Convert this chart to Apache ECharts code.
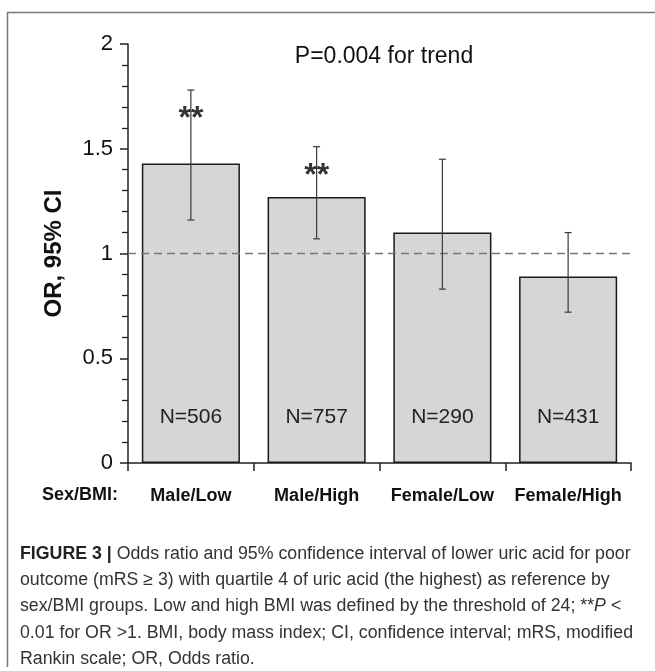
<!DOCTYPE html>
<html><head><meta charset="utf-8">
<script src="https://cdn.jsdelivr.net/npm/echarts@6/dist/echarts.min.js"></script>
<style>html,body{margin:0;padding:0;background:#fff}#c{width:655px;height:671px}</style>
</head><body><div id="c"></div>
<script>
const categories = ['Male/Low', 'Male/High', 'Female/Low', 'Female/High'];
const orValues = [1.43, 1.27, 1.10, 0.89];
const ciLower = [1.16, 1.07, 0.83, 0.72];
const ciUpper = [1.78, 1.51, 1.45, 1.10];
const nLabels = ['N=506', 'N=757', 'N=290', 'N=431'];
const sigMarks = ['**', '**', '', ''];
const sigLevel = [1.64, 1.37, null, null];
const yTicks = [0, 0.5, 1, 1.5, 2];
const refValue = 1;
const trendText = 'P=0.004 for trend';
const groupTitle = 'Sex/BMI:';
const yName = 'OR, 95% CI';
const captionLines = [
  '{b|FIGURE 3 |} Odds ratio and 95% confidence interval of lower uric acid for poor',
  'outcome (mRS \u2265 3) with quartile 4 of uric acid (the highest) as reference by',
  'sex/BMI groups. Low and high BMI was defined by the threshold of 24; **{i|P} <',
  '0.01 for OR >1. BMI, body mass index; CI, confidence interval; mRS, modified',
  'Rankin scale; OR, Odds ratio.'
];

const FF = '"Liberation Sans", Arial, Helvetica, sans-serif';
const chart = echarts.init(document.getElementById('c'));

const cv = document.createElement('canvas').getContext('2d');
cv.font = '18px "Liberation Sans"';
const capScale = 613 / cv.measureText(captionLines[3]).width;

const captionGraphics = captionLines.map((t, i) => ({
  type: 'text', x: 20, y: 554 + i * 26.2, scaleX: capScale,
  style: {
    text: t, fill: '#333', font: '18px ' + FF, verticalAlign: 'middle',
    rich: {
      b: { fontWeight: 'bold', fontSize: 18, fontFamily: FF, fill: '#222' },
      i: { fontStyle: 'italic', fontSize: 18, fontFamily: FF, fill: '#333' }
    }
  }
}));

const sigData = sigLevel.map((v, i) => v == null ? null : [i, v]).filter(d => d);

chart.setOption({
  animation: false,
  backgroundColor: '#fff',
  grid: { left: 128, right: 24, top: 44, bottom: 208 },
  xAxis: {
    type: 'category', data: categories, boundaryGap: true,
    axisLine: { lineStyle: { color: '#222', width: 1.5 } },
    axisTick: { show: true, interval: 0, length: 8, lineStyle: { color: '#222', width: 1.5 } },
    axisLabel: { interval: 0, margin: 24, fontSize: 18, fontWeight: 'bold', color: '#111', fontFamily: FF }
  },
  yAxis: {
    type: 'value', min: yTicks[0], max: yTicks[yTicks.length - 1], interval: yTicks[1] - yTicks[0],
    name: yName, nameLocation: 'middle', nameRotate: 90, nameGap: 62,
    nameTextStyle: { fontSize: 24, fontWeight: 'bold', color: '#111', fontFamily: FF },
    axisLine: { show: true, lineStyle: { color: '#222', width: 1.5 } },
    axisTick: { show: true, length: 8, lineStyle: { color: '#222', width: 1.5 } },
    minorTick: { show: true, splitNumber: 5, length: 6, lineStyle: { color: '#222', width: 1.3 } },
    splitLine: { show: false },
    axisLabel: { margin: 15, fontSize: 22, color: '#111', fontFamily: FF,
      formatter: v => String(v) }
  },
  series: [
    {
      type: 'bar', data: orValues, barCategoryGap: '22%',
      itemStyle: { color: '#d6d6d6', borderColor: '#1a1a1a', borderWidth: 1.5 },
      label: {
        show: true, position: 'insideBottom', distance: 35,
        formatter: p => nLabels[p.dataIndex],
        fontSize: 21, color: '#222', fontFamily: FF
      },
      markLine: {
        silent: true, symbol: 'none', label: { show: false },
        lineStyle: { type: [8, 5], color: '#777', width: 1.3 },
        data: [{ yAxis: refValue }]
      },
      z: 2
    },
    {
      type: 'custom', z: 5,
      data: categories.map((c, i) => [i, ciLower[i], ciUpper[i]]),
      renderItem: function (params, api) {
        const x = api.value(0);
        const lo = api.coord([x, api.value(1)]);
        const hi = api.coord([x, api.value(2)]);
        const cap = 3.5;
        const st = { stroke: '#3a3a3a', lineWidth: 1.2 };
        return { type: 'group', children: [
          { type: 'line', shape: { x1: lo[0], y1: lo[1], x2: hi[0], y2: hi[1] }, style: st },
          { type: 'line', shape: { x1: lo[0] - cap, y1: lo[1], x2: lo[0] + cap, y2: lo[1] }, style: st },
          { type: 'line', shape: { x1: hi[0] - cap, y1: hi[1], x2: hi[0] + cap, y2: hi[1] }, style: st }
        ]};
      }
    },
    {
      type: 'scatter', data: sigData, symbolSize: 2, z: 6,
      itemStyle: { color: 'rgba(0,0,0,0)' },
      label: {
        show: true, position: 'inside',
        formatter: p => sigMarks[p.data[0]],
        fontSize: 32, fontWeight: 'bold', color: '#000', fontFamily: FF
      }
    }
  ],
  graphic: [
    { type: 'polyline', shape: { points: [[7.5, 667], [7.5, 12.5], [655, 12.5]] },
      style: { stroke: '#777', lineWidth: 1.5, fill: null } },
    { type: 'text', x: 384, y: 57, style: { text: trendText, font: '23px ' + FF, fill: '#111',
      align: 'center', verticalAlign: 'middle' } },
    { type: 'text', x: 80, y: 495, style: { text: groupTitle, font: 'bold 18px ' + FF, fill: '#111',
      align: 'center', verticalAlign: 'middle' } }
  ].concat(captionGraphics)
});
</script></body></html>
